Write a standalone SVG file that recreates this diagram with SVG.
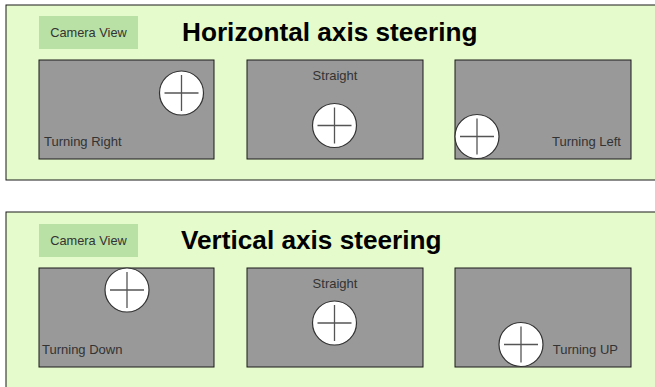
<svg xmlns="http://www.w3.org/2000/svg" width="655" height="387" viewBox="0 0 655 387">
<style>
.panel{fill:#e6fbcb;stroke:#1a1a1a;stroke-width:1}
.cv{fill:#b9e0a5;stroke:none}
.cvt{font-family:"Liberation Sans",Arial,sans-serif;font-size:12.8px;fill:#333}
.title{font-family:"Liberation Sans",Arial,sans-serif;font-size:26.2px;font-weight:bold;fill:#000}
.cam{fill:#999999;stroke:#1a1a1a;stroke-width:1}
.lbl{font-family:"Liberation Sans",Arial,sans-serif;font-size:13px;fill:#333}
.dot{fill:#fff;stroke:#333;stroke-width:1.2}
.cross{stroke:#555;stroke-width:1.3}
</style>
<defs>
<g id="target">
<circle class="dot" r="22"/>
<line class="cross" x1="-17" y1="0" x2="17" y2="0"/>
<line class="cross" x1="0" y1="-18" x2="0" y2="18"/>
</g>
</defs>
<g id="horizontal">
<rect class="panel" x="6" y="5" width="660" height="175"/>
<g id="h-cameraview"><rect class="cv" x="39" y="16" width="99" height="33"/><text class="cvt" x="88.5" y="37" text-anchor="middle">Camera View</text></g>
<text class="title" x="182" y="41">Horizontal axis steering</text>
<g id="h-right"><rect class="cam" x="39" y="60" width="175" height="99"/><use href="#target" x="181.5" y="93"/><text class="lbl" x="44" y="146">Turning Right</text></g>
<g id="h-straight"><rect class="cam" x="247" y="60" width="176" height="99"/><text class="lbl" x="335" y="80" text-anchor="middle">Straight</text><use href="#target" x="334.5" y="125.5"/></g>
<g id="h-left"><rect class="cam" x="455" y="60" width="176" height="99"/><use href="#target" x="477" y="136.5"/><text class="lbl" x="621" y="146" text-anchor="end">Turning Left</text></g>
</g>
<g id="vertical">
<rect class="panel" x="6" y="212" width="660" height="190"/>
<g id="v-cameraview"><rect class="cv" x="39" y="224" width="99" height="33"/><text class="cvt" x="88.5" y="245" text-anchor="middle">Camera View</text></g>
<text class="title" x="181" y="249">Vertical axis steering</text>
<g id="v-down"><rect class="cam" x="39" y="268" width="175" height="99"/><use href="#target" x="127" y="290"/><text class="lbl" x="42" y="354">Turning Down</text></g>
<g id="v-straight"><rect class="cam" x="247" y="268" width="176" height="99"/><text class="lbl" x="335" y="288" text-anchor="middle">Straight</text><use href="#target" x="334.5" y="323"/></g>
<g id="v-up"><rect class="cam" x="455" y="268" width="176" height="99"/><use href="#target" x="521" y="344.5"/><text class="lbl" x="618" y="354" text-anchor="end">Turning UP</text></g>
</g>
<g id="connectors"/>
</svg>
